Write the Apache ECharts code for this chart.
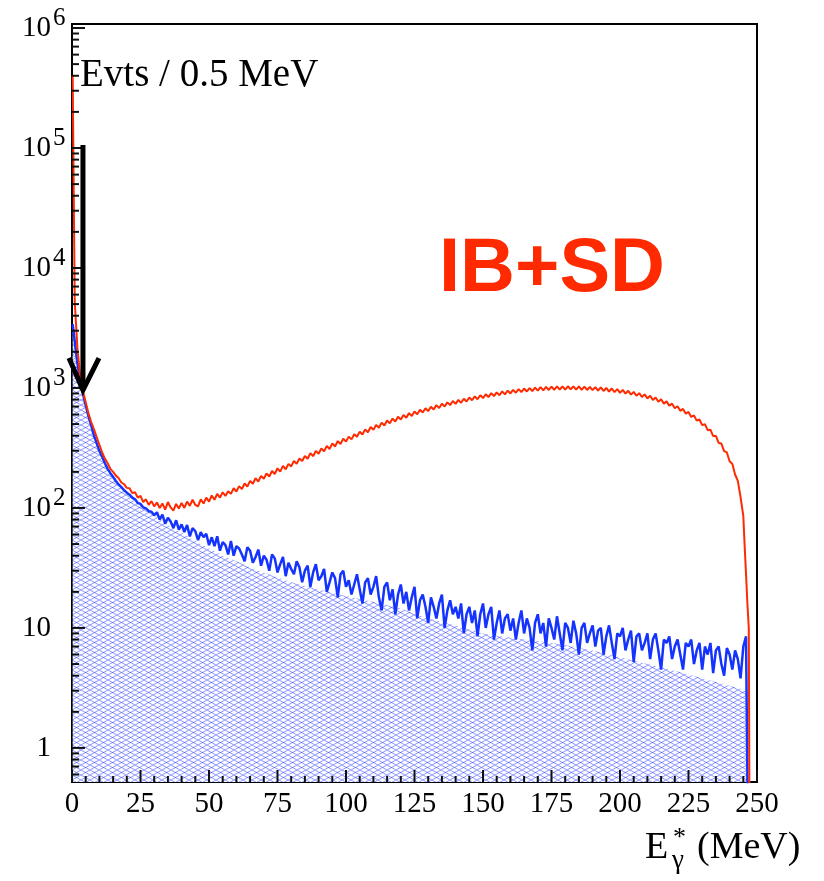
<!DOCTYPE html>
<html><head><meta charset="utf-8">
<script src="https://cdn.jsdelivr.net/npm/echarts@6/dist/echarts.min.js"></script>
<style>html,body{margin:0;padding:0;background:#fff}#c{width:824px;height:881px}</style>
</head><body><div id="c"></div>
<script>
// ---------------- DATA ----------------
// IB+SD (red) : values per 1 MeV from E = 1 to 245 MeV
const ibsdFirstE = 1;
const ibsdV = [
 5200,2100,1250,940,760,615,520,455,390,335,
 290,258,236,212,200,186,178,163,158,147,
 146,133,135,122,126,112,118,106,114,103,
 111,100,109,97,112,101,95,108,99,110,
 100,113,104,117,106,103,118,109,122,113,
 127,117,131,122,135,126,138,131,146,137,
 152,144,160,151,168,159,177,166,185,175,
 194,183,203,192,214,201,224,210,233,222,
 246,233,258,246,271,257,286,270,299,283,
 314,296,329,310,345,325,361,341,378,357,
 393,373,412,392,432,409,452,428,473,449,
 492,466,514,487,535,507,556,525,576,545,
 595,564,617,584,637,604,658,625,678,641,
 697,662,719,680,740,700,758,720,778,737,
 795,752,814,771,833,790,851,805,869,824,
 887,840,905,855,920,870,936,885,950,900,
 965,912,978,925,990,935,998,943,1008,950,
 1015,955,1020,962,1026,966,1030,968,1033,970,
 1033,972,1031,968,1030,965,1026,962,1022,958,
 1017,952,1010,944,1000,934,990,924,977,910,
 963,897,947,880,928,861,906,840,884,818,
 860,793,832,768,804,740,773,710,740,678,
 705,645,669,610,631,573,590,534,546,490,
 499,445,449,397,398,348,344,298,290,245,
 233,190,168,123,86
];
const ibsdHead = [[0.25, 400000]];
const ibsdTail = [[245.5, 48], [246, 28], [246.5, 16], [247, 10], [247.25, 0.3]];

// IB (blue) : values per 1 MeV from E = 1 to 245 MeV
const ibFirstE = 1;
const ibV = [
 2450,1580,1150,890,715,585,488,402,347,298,
 268,236,212,195,181,168,157,149,141,134,
 129,122,118,110,108,101,99,94,93,87,
 92,80,88,74,83,77,68,79,66,73,
 63,72,58,68,64,54,63,57,61,49,
 57,48,58,44,52,49,41,53,40,48,
 46,41,36,47,44,35,39,45,33,40,
 37,30,41,38,29,34,39,27,35,31,
 28,36,32,24,30,33,22,29,34,25,
 27,31,20,24,29,26,18,28,30,22,
 25,19,23,28,21,16,24,26,19,22,
 27,18,14,22,24,17,21,13,19,23,
 16,20,14,18,22,12,17,19,15,11,
 18,15,12,16,19,10,14,17,13,15,
 12,16,9,13,15,11,14,8.5,13,16,
 10,13,15,8,11,14,9,12,13,9.5,
 12,8,11,14,9,12,10,6.5,11,13,
 9,11,7,12,10,8,12.5,9,6.5,11,
 10,7.5,11.5,9,6,10,11,7.5,9,10.5,
 7,9.5,10,6,8.5,10.5,7.5,5.5,9,8.5,
 10,6.5,8,9.5,5.2,8.5,9,6.5,7.5,9,
 5.5,8,9,6.5,4.5,8,7.5,8.5,5.5,7,
 8,6,4.5,7.5,7,8,5,6.5,7.5,4.5,
 7,6,7.5,4.2,6.5,7,5,4,6.8,6,
 4.5,6.5,5.5,3.8,7
];
const ibHead = [[0.25, 3400]];
const ibTail = [[246, 8.5], [246.6, 0.3]];

// IB hatched fill (lower envelope of the IB histogram)
const hatchE = [0.25,1,2,3,4,5,6,7,8,10,12,14,16,18,20,23,26,30,35,40,45,50,55,60,65,70,75,80,90,100,110,120,130,140,150,160,170,180,190,200,210,220,230,240,246.5,246.6];
const hatchV = [3000,2300,1500,1100,860,690,565,470,390,288,228,188,162,145,130,113,99,86,72,62,53,46,40,36,32,29,26.5,24,21,18.5,16.5,14.5,12,10.5,9,8.3,7.8,7.2,6.5,5.7,5.0,4.4,3.8,3.3,3.0,0.3];

// arrow : [E, top value, tip value]
const arrowData = [[4.0, 106000, 960]];

// axes
const xTickLabels = ['0','25','50','75','100','125','150','175','200','225','250'];
const yMajorValues = [1, 10, 100, 1000, 10000, 100000, 1000000];
const yMajorExp = ['', '', '2', '3', '4', '5', '6'];
const yMajorBase = ['1', '10', '10', '10', '10', '10', '10'];
const yMin = 0.52, yMax = 1.08e6;

// --------------- build ----------------
function series(head, firstE, vals, tail) {
  const out = head.slice();
  vals.forEach((v, i) => out.push([firstE + i, v]));
  return out.concat(tail);
}
const ibsdData = series(ibsdHead, ibsdFirstE, ibsdV, ibsdTail);
const ibData = series(ibHead, ibFirstE, ibV, ibTail);
const hatchData = hatchE.map((e, i) => [e, hatchV[i]]);

// tick marks
const yMajorTicks = yMajorValues.map(v => [0, v]);
const yMinorTicks = [];
for (let n = -1; n <= 5; n++) for (let k = 2; k <= 9; k++) {
  const v = k * Math.pow(10, n);
  if (v > yMin && v < yMax) yMinorTicks.push([0, v]);
}
const xMajorTicks = [], xMinorTicks = [];
for (let e = 0; e <= 250; e += 5) (e % 25 === 0 ? xMajorTicks : xMinorTicks).push([e, yMin]);
const yLabelData = yMajorValues.map((v, i) => [0, v, i]);

function tickSeries(name, data, dx, dy) {
  return {type: 'custom', name: name, data: data, silent: true, z: 30, clip: false,
    renderItem: (p, api) => {
      const c = api.coord([api.value(0), api.value(1)]);
      const shape = dx ? {x: c[0], y: c[1] - 1, width: dx, height: 2}
                       : {x: c[0] - 1, y: c[1] - dy, width: 2, height: dy};
      return {type: 'rect', shape: shape, style: {fill: '#111'}};
    }};
}

// hatch pattern
const pat = document.createElement('canvas');
pat.width = 9; pat.height = 5;
const pc = pat.getContext('2d');
pc.fillStyle = '#ffffff';
pc.fillRect(0, 0, 9, 5);
pc.strokeStyle = 'rgba(40,60,255,0.6)';
pc.lineWidth = 0.9;
pc.beginPath();
pc.moveTo(0, 0); pc.lineTo(9, 5);
pc.moveTo(0, 5); pc.lineTo(9, 0);
pc.stroke();

const serif = '"Liberation Serif", "Times New Roman", serif';
const sans = '"Liberation Sans", Arial, sans-serif';

const chart = echarts.init(document.getElementById('c'), null, {renderer: 'canvas'});
chart.setOption({
  animation: false,
  backgroundColor: '#fff',
  grid: {left: 72, right: 67, top: 24, bottom: 99, show: true, borderColor: '#000', borderWidth: 2, backgroundColor: 'transparent'},
  xAxis: {
    type: 'value', min: 0, max: 250, interval: 25,
    axisLine: {show: true, onZero: false, lineStyle: {color: '#000', width: 2}},
    axisTick: {show: false},
    splitLine: {show: false},
    axisLabel: {fontFamily: serif, fontSize: 29, color: '#000', margin: 8,
      formatter: v => xTickLabels[Math.round(v / 25)]}
  },
  yAxis: {
    type: 'log', min: yMin, max: yMax,
    axisLine: {show: true, onZero: false, lineStyle: {color: '#000', width: 2}},
    axisTick: {show: false},
    axisLabel: {show: false}, splitLine: {show: false}
  },
  series: [
    {type: 'line', name: 'IB fill', data: hatchData, showSymbol: false, silent: true, z: 1,
      lineStyle: {width: 0, opacity: 0},
      areaStyle: {color: {image: pat, repeat: 'repeat'}, opacity: 1, origin: 'start'}},
    {type: 'line', name: 'IB', data: ibData, showSymbol: false, silent: true, z: 2,
      lineStyle: {color: '#1433ff', width: 2.5}},
    {type: 'line', name: 'IB+SD', data: ibsdData, showSymbol: false, silent: true, z: 3,
      lineStyle: {color: '#ff2a00', width: 2}},
    tickSeries('yMajorTicks', yMajorTicks, 13, 0),
    tickSeries('yMinorTicks', yMinorTicks, 7, 0),
    tickSeries('xMajorTicks', xMajorTicks, 0, 12),
    tickSeries('xMinorTicks', xMinorTicks, 0, 6),
    {type: 'custom', name: 'yLabels', data: yLabelData, silent: true, z: 30, clip: false,
      renderItem: (p, api) => {
        const c = api.coord([0, api.value(1)]);
        const i = Number(api.value(2));
        const kids = [
          {type: 'text', x: c[0] - 21, y: c[1], style: {text: yMajorBase[i], fontFamily: serif, fontSize: 29, fill: '#000', align: 'right', verticalAlign: 'middle'}}
        ];
        if (yMajorExp[i]) kids.push({type: 'text', x: c[0] - 19, y: c[1] - 10, style: {text: yMajorExp[i], fontFamily: serif, fontSize: 25, fill: '#000', align: 'left', verticalAlign: 'middle'}});
        return {type: 'group', children: kids};
      }},
    {type: 'custom', name: 'arrow', data: arrowData, silent: true, z: 31,
      renderItem: (p, api) => {
        const a = api.coord([api.value(0), api.value(1)]);
        const b = api.coord([api.value(0), api.value(2)]);
        return {type: 'group', children: [
          {type: 'line', shape: {x1: a[0], y1: a[1], x2: b[0], y2: b[1] - 3}, style: {stroke: '#000', lineWidth: 5}},
          {type: 'polyline', shape: {points: [[b[0] - 14, b[1] - 32], [b[0], b[1]], [b[0] + 16, b[1] - 32]]}, style: {stroke: '#000', lineWidth: 5, fill: null, lineJoin: 'miter'}}
        ]};
      }}
  ],
  graphic: [
    {type: 'text', x: 80, y: 76, style: {text: 'Evts / 0.5 MeV', fontFamily: serif, fontSize: 39, fill: '#000', align: 'left', verticalAlign: 'middle'}},
    {type: 'text', x: 439, y: 270, style: {text: 'IB+SD', fontFamily: sans, fontWeight: 'bold', fontSize: 76, fill: '#ff2a00', align: 'left', verticalAlign: 'middle'}},
    {type: 'text', x: 187, y: 673, style: {text: 'IB', fontFamily: sans, fontWeight: 'bold', fontSize: 78, fill: '#1433ff', align: 'left', verticalAlign: 'middle'}},
    {type: 'text', x: 645, y: 848, style: {text: 'E', fontFamily: serif, fontSize: 38, fill: '#000', align: 'left', verticalAlign: 'middle'}},
    {type: 'text', x: 673, y: 838, style: {text: '*', fontFamily: serif, fontSize: 26, fill: '#000', align: 'left', verticalAlign: 'middle'}},
    {type: 'text', x: 672, y: 861, style: {text: 'γ', fontFamily: serif, fontSize: 27, fill: '#000', align: 'left', verticalAlign: 'middle'}},
    {type: 'text', x: 697, y: 848, style: {text: '(MeV)', fontFamily: serif, fontSize: 38, fill: '#000', align: 'left', verticalAlign: 'middle'}}
  ]
});
</script></body></html>
